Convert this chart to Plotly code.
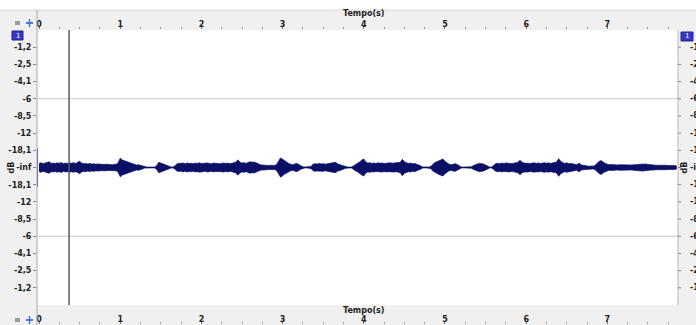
import plotly.graph_objects as go

# ---- data ----
SAMPLE_STEP = 0.025  # seconds between envelope samples
# waveform envelope (percent of full scale), one value per sample
amp = [
    3.0,3.5,2.8,3.2,3.6,4.2,3.0,3.3,2.9,3.4,
    3.1,3.6,2.8,3.2,3.0,3.4,3.1,3.5,3.0,3.6,
    4.5,3.2,2.8,3.0,2.6,2.9,2.5,2.8,2.4,2.6,
    2.3,2.5,2.2,2.4,2.1,2.3,2.0,2.2,2.4,3.5,
    6.8,5.5,5.0,4.4,4.0,3.5,3.0,2.4,1.8,2.0,
    1.6,1.0,0.4,0.3,0.3,0.3,0.3,0.3,1.5,3.8,
    3.2,2.6,2.2,1.8,1.0,0.4,0.3,1.2,2.8,3.0,
    2.7,3.2,2.8,3.3,2.9,3.1,2.7,3.2,3.0,3.4,
    2.9,3.1,2.8,3.3,3.0,2.7,3.2,2.9,3.1,2.8,
    3.0,3.3,2.9,3.2,2.8,3.0,3.4,4.0,5.6,3.8,
    3.2,3.5,3.0,3.6,4.2,3.8,4.0,3.4,2.6,2.0,
    1.8,1.6,1.7,1.5,1.6,1.4,1.5,2.2,4.5,7.0,
    6.0,4.8,3.8,3.0,2.4,2.0,2.6,3.0,2.2,1.2,
    0.5,0.3,0.3,0.3,0.8,2.4,2.8,2.5,2.9,2.6,
    2.8,2.4,2.7,2.9,3.2,3.6,3.8,2.8,2.0,1.6,
    1.2,0.6,0.3,0.3,0.4,1.2,2.5,3.2,4.0,5.5,
    6.2,4.0,3.2,3.5,3.0,3.3,2.9,3.4,3.1,3.3,
    2.9,3.2,3.0,3.4,3.1,3.3,3.0,3.5,3.8,6.0,
    4.2,3.4,3.0,3.2,2.8,3.0,2.5,2.0,1.2,0.4,
    0.3,0.3,0.3,0.8,2.5,3.6,4.2,5.0,5.8,6.2,
    4.5,3.2,2.4,2.0,2.6,2.8,2.2,1.2,0.4,0.3,
    0.3,0.3,0.3,0.5,1.4,2.2,2.6,3.0,2.8,2.5,
    1.8,0.8,0.3,0.4,1.5,2.8,3.1,2.8,3.2,2.9,
    3.3,3.0,3.2,2.8,3.1,3.4,3.9,5.3,3.8,3.2,
    3.0,3.3,2.9,3.2,3.4,3.0,3.3,2.9,3.2,3.5,
    3.1,3.4,3.0,3.3,3.6,4.0,6.4,4.5,3.6,3.0,
    3.4,2.8,3.0,2.6,2.2,2.0,3.2,2.0,1.6,1.2,
    1.0,0.9,1.1,1.0,1.6,2.8,4.6,5.0,3.8,3.0,
    2.4,2.0,2.2,1.9,2.1,1.8,2.0,1.9,1.8,2.0,
    1.7,1.9,1.8,2.0,1.9,2.1,2.4,2.6,2.3,2.5,
    2.2,1.9,1.7,1.8,1.6,1.7,1.5,1.6,1.5,1.6,
    1.4,1.5,1.3,1.4,1.2,
]
time_ticks = [0, 1, 2, 3, 4, 5, 6, 7]
time_tick_labels = ["0", "1", "2", "3", "4", "5", "6", "7"]
level_vals = [87.5, 75, 62.5, 50, 37.5, 25, 12.5, 0, -12.5, -25, -37.5, -50, -62.5, -75, -87.5]
level_labels = ["-1,2", "-2,5", "-4,1", "-6", "-8,5", "-12", "-18,1", "-inf",
                "-18,1", "-12", "-8,5", "-6", "-4,1", "-2,5", "-1,2"]
grid_levels = [50, -50]
cursor_time = 0.37
clip_start = -0.018
x_title = "Tempo(s)"
y_title = "dB"

# ---- figure geometry (pixels) ----
W, H = 696, 325
L, R, T, B = 37, 18, 30, 0
PW, PH = W - L - R, H - T - B
def px(xp):
    return (xp - L) / PW
def py(yp):
    return (H - B - yp) / PH

times = [i * SAMPLE_STEP for i in range(len(amp))]
wave_x = times + times[::-1]
wave_y = amp + [-a for a in amp[::-1]]

NAVY = "#0c0f66"
PANEL = "#f0f0f0"
font_bold = dict(family="DejaVu Sans", size=8, color="#222222", weight="bold")

fig = go.Figure()
fig.add_trace(go.Scatter(x=wave_x, y=wave_y, fill="toself", fillcolor=NAVY,
                         mode="lines", line=dict(color=NAVY, width=0.7),
                         hoverinfo="skip", showlegend=False))
fig.add_trace(go.Scatter(x=[times[0]], y=[0], xaxis="x2", yaxis="y2",
                         mode="markers", marker=dict(opacity=0),
                         hoverinfo="skip", showlegend=False))

shapes = []
# gray panels
shapes.append(dict(type="rect", xref="paper", yref="paper", x0=px(0), x1=px(W), y0=py(10), y1=py(30),
                   fillcolor=PANEL, line_width=0, layer="below"))
shapes.append(dict(type="rect", xref="paper", yref="paper", x0=px(0), x1=px(W), y0=py(305), y1=py(325),
                   fillcolor=PANEL, line_width=0, layer="below"))
shapes.append(dict(type="rect", xref="paper", yref="paper", x0=px(0), x1=px(37), y0=py(10), y1=py(325),
                   fillcolor=PANEL, line_width=0, layer="below"))
shapes.append(dict(type="rect", xref="paper", yref="paper", x0=px(678), x1=px(W), y0=py(10), y1=py(325),
                   fillcolor=PANEL, line_width=0, layer="below"))
# borders
shapes.append(dict(type="line", xref="paper", yref="paper", x0=px(0), x1=px(W), y0=py(10), y1=py(10),
                   line=dict(color="#d8d8d8", width=1)))
shapes.append(dict(type="line", xref="paper", yref="paper", x0=px(37), x1=px(37), y0=py(10), y1=py(325),
                   line=dict(color="#a8a8a8", width=1)))
shapes.append(dict(type="line", xref="paper", yref="paper", x0=px(678), x1=px(678), y0=py(30), y1=py(305),
                   line=dict(color="#b8b8b8", width=1)))
# grid lines
for g in grid_levels:
    shapes.append(dict(type="line", xref="paper", yref="y", x0=0, x1=1, y0=g, y1=g,
                       line=dict(color="#c4c4c4", width=1), layer="below"))
# clip start marker and cursor
shapes.append(dict(type="line", xref="x", yref="y", x0=clip_start, x1=clip_start, y0=-14, y1=14,
                   line=dict(color="#6f6fc0", width=1)))
shapes.append(dict(type="line", xref="x", yref="y", x0=cursor_time, x1=cursor_time, y0=-100, y1=100,
                   line=dict(color="#5a5a5a", width=1.5)))
# track badges
shapes.append(dict(type="rect", xref="paper", yref="paper", x0=px(12), x1=px(23), y0=py(40), y1=py(31),
                   fillcolor="#3636c8", line=dict(color="#22228a", width=1)))
shapes.append(dict(type="rect", xref="paper", yref="paper", x0=px(681), x1=px(693), y0=py(41), y1=py(32),
                   fillcolor="#3636c8", line=dict(color="#22228a", width=1)))
# small ruler icons (lock + zoom)
for yc in (23, 320):
    shapes.append(dict(type="rect", xref="paper", yref="paper", x0=px(15), x1=px(20), y0=py(yc + 2), y1=py(yc - 2),
                       fillcolor="#9a9a9a", line_width=0))
    shapes.append(dict(type="line", xref="paper", yref="paper", x0=px(26), x1=px(33), y0=py(yc), y1=py(yc),
                       line=dict(color="#3f7fd0", width=2)))
    shapes.append(dict(type="line", xref="paper", yref="paper", x0=px(29.5), x1=px(29.5), y0=py(yc - 4), y1=py(yc + 4),
                       line=dict(color="#3f7fd0", width=1.5)))

annotations = [
    dict(text=x_title, xref="paper", yref="paper", x=px(363), y=py(14), showarrow=False,
         font=font_bold, xanchor="center", yanchor="middle"),
    dict(text=x_title, xref="paper", yref="paper", x=px(363), y=py(310), showarrow=False,
         font=font_bold, xanchor="center", yanchor="middle"),
    dict(text=y_title, xref="paper", yref="y", x=px(11), y=0, showarrow=False, textangle=-90,
         font=font_bold, xanchor="center", yanchor="middle"),
    dict(text=y_title, xref="paper", yref="y", x=px(684), y=0, showarrow=False, textangle=-90,
         font=font_bold, xanchor="center", yanchor="middle"),
    dict(text="1", xref="paper", yref="paper", x=px(17.5), y=py(35.5), showarrow=False,
         font=dict(family="DejaVu Sans", size=7, color="white"), xanchor="center", yanchor="middle"),
    dict(text="1", xref="paper", yref="paper", x=px(687), y=py(36.5), showarrow=False,
         font=dict(family="DejaVu Sans", size=7, color="white"), xanchor="center", yanchor="middle"),
]
for v, lab in zip(level_vals, level_labels):
    annotations.append(dict(text=lab, xref="paper", yref="y", x=px(688), y=v, showarrow=False,
                            font=font_bold, xanchor="left", yanchor="middle"))
    shapes.append(dict(type="line", xref="paper", yref="y", x0=1, x1=px(681), y0=v, y1=v,
                       line=dict(color="#888888", width=1)))

xrange = [-0.025, 7.87]
common_x = dict(range=xrange, side="top", tickvals=time_ticks, ticktext=time_tick_labels,
                ticks="outside", ticklen=3, tickcolor="#777777", tickfont=font_bold,
                ticklabelstandoff=-4,
                showgrid=False, zeroline=False, showline=False, automargin=False,
                minor=dict(dtick=0.25, tick0=0, ticks="outside", ticklen=2, tickcolor="#999999", showgrid=False))
fig.update_layout(
    width=W, height=H,
    margin=dict(l=L, r=R, t=T, b=B, pad=0, autoexpand=False),
    paper_bgcolor="white", plot_bgcolor="white",
    showlegend=False,
    shapes=shapes, annotations=annotations,
    xaxis=dict(anchor="y", **common_x),
    xaxis2=dict(anchor="y2", **common_x),
    yaxis=dict(range=[-100, 100], domain=[py(305), 1], tickvals=level_vals, ticktext=level_labels,
               ticks="outside", ticklen=3, tickcolor="#888888", tickfont=font_bold,
               showgrid=False, zeroline=False, showline=False, automargin=False),
    yaxis2=dict(range=[-1, 1], domain=[0, 0.001], visible=False, automargin=False),
)

fig.write_html("out.html", config={"displayModeBar": False},
               post_script="document.body.style.margin='0';document.body.style.overflow='hidden';")
